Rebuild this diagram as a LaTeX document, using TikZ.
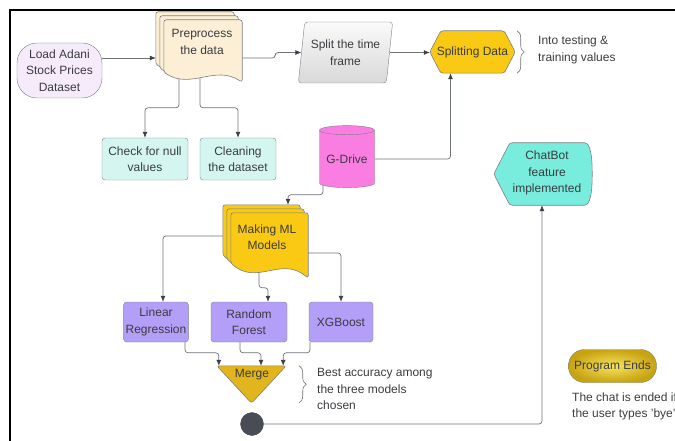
\documentclass[tikz,border=0pt]{standalone}
\usepackage{fontspec}
\setmainfont{Liberation Sans}
\usetikzlibrary{arrows.meta,positioning,calc,decorations.pathreplacing,shapes.geometric}

\pgfdeclarelayer{edges}
\pgfdeclarelayer{shapes}
\pgfsetlayers{edges,shapes,main}

\definecolor{linegray}{HTML}{6E7279}
\definecolor{tipgray}{HTML}{3C4047}
\definecolor{bordergray}{HTML}{7C7F85}
\definecolor{txtgray}{HTML}{3A3C40}
\definecolor{loadfill}{HTML}{F6EBFB}
\definecolor{prefill}{HTML}{FCEFD5}
\definecolor{goldfill}{HTML}{F9C913}
\definecolor{mintfill}{HTML}{D5F6F0}
\definecolor{drivepink}{HTML}{FA7EE2}
\definecolor{modelpurple}{HTML}{B49FF8}
\definecolor{mergegold}{HTML}{E1B51B}
\definecolor{dotgray}{HTML}{474C55}
\definecolor{chatteal}{HTML}{78ECDD}

% one page of a document stack: node, offset, colour, rise of the left end
\newcommand{\docpage}[4]{%
  \filldraw[shapeline, fill=#3]
    ($(#1.north west)+(#2)$) -- ($(#1.north east)+(#2)$) -- ($(#1.south east)+(#2)$)
    .. controls ($(#1.south east)!0.35!(#1.south west)+(#2)+(0,-#4-8)$)
       and ($(#1.south east)!0.65!(#1.south west)+(#2)+(0,8)$)
    .. ($(#1.south west)+(#2)+(0,-#4)$) -- cycle;}

\begin{document}
\begin{tikzpicture}[x=1pt,y=-1pt,
font=\fontsize{12}{16.5}\selectfont,
every node/.append style={text=txtgray},
box/.style={draw=bordergray,rectangle,rounded corners=3pt,align=center,inner sep=2pt},
plain/.style={align=center,inner sep=0pt},
note/.style={align=left,inner sep=0pt,anchor=west},
shapeline/.style={draw=bordergray,line width=0.6pt,rounded corners=2.5pt},
conn/.style={draw=linegray,line width=0.7pt,rounded corners=3pt,-{Latex[length=6pt,width=5pt,color=tipgray]}},
brace/.style={draw=linegray,line width=0.6pt,decoration={brace,amplitude=7pt},decorate}]

\useasboundingbox (0,0) rectangle (675,441);
\clip (0,0) rectangle (675,441);

% nodes
\node[box, fill=loadfill, rounded corners=20pt, minimum width=85pt, minimum height=55pt] (load) at (59.5,70.5) {Load Adani\\Stock Prices\\Dataset};
\node[plain, minimum width=78pt, minimum height=62pt] (pre) at (203,51) {};
\node[plain] (pretxt) at (202,42) {Preprocess\\the data};
\node[trapezium, draw=bordergray, top color=gray!4, bottom color=gray!30, trapezium left angle=78, trapezium right angle=102, trapezium stretches=true, minimum width=95pt, minimum height=61pt, rounded corners=3pt, align=center, inner sep=0pt] (split) at (345.5,52.5) {Split the time\\frame};
\node[plain, minimum width=85pt, minimum height=42pt] (sd) at (472.5,52) {Splitting Data};
\node[note] (sdnote) at (538,50) {Into testing \&\\training values};

\node[box, fill=mintfill, minimum width=86pt, minimum height=42pt] (check) at (145,159) {Check for null\\values};
\node[box, fill=mintfill, minimum width=76pt, minimum height=42pt] (clean) at (238,159) {Cleaning\\the dataset};
\node[cylinder, shape border rotate=90, aspect=0.22, draw=bordergray, fill=drivepink, minimum width=55pt, minimum height=62pt, inner sep=0pt] (gd) at (347,159) {G-Drive};

\node[plain, minimum width=77pt, minimum height=65pt] (ml) at (269.5,245.5) {};
\node[plain] (mltxt) at (267,237) {Making ML\\Models};
\node[box, fill=modelpurple, minimum width=64pt, minimum height=40pt] (lin) at (156,322) {Linear\\Regression};
\node[box, fill=modelpurple, minimum width=76pt, minimum height=40pt] (rf) at (249,322) {Random\\Forest};
\node[box, fill=modelpurple, minimum width=64pt, minimum height=40pt] (xgb) at (341,322) {XGBoost};

\node[plain, minimum width=69pt, minimum height=37pt] (merge) at (251.5,384.5) {};
\node[plain] (mergetxt) at (252,375) {Merge};
\node[note] (mergenote) at (317,389) {Best accuracy among\\the three models\\chosen};
\node[circle, fill=dotgray, draw=dotgray, minimum size=23pt, inner sep=0pt] (enddot) at (252,424) {};

\node[plain, minimum width=98pt, minimum height=62pt] (chat) at (543,174) {};
\node[plain] (chattxt) at (547,173) {ChatBot\\feature\\implemented};
\node[box, rounded corners=16pt, inner color={rgb,255:red,247;green,228;blue,96}, outer color={rgb,255:red,200;green,163;blue,16}, minimum width=88pt, minimum height=33pt] (prog) at (612.5,366) {Program Ends};
\node[note] (endnote) at (572,406.5) {The chat is ended if\\the user types 'bye'};

% drawn shapes
\begin{pgfonlayer}{shapes}
\docpage{pre}{-8,-8}{prefill}{10}
\docpage{pre}{-4,-4}{prefill}{10}
\docpage{pre}{0,0}{prefill}{10}
\docpage{ml}{-8,-8}{goldfill}{15}
\docpage{ml}{-4,-4}{goldfill}{15}
\docpage{ml}{0,0}{goldfill}{15}
\filldraw[shapeline, fill=goldfill] (sd.west) -- ($(sd.north west)+(11,0)$) -- ($(sd.north east)+(-11,0)$) -- (sd.east) -- ($(sd.south east)+(-11,0)$) -- ($(sd.south west)+(11,0)$) -- cycle;
\filldraw[shapeline, fill=mergegold] (merge.north west) -- (merge.north east) -- (merge.south) -- cycle;
\filldraw[shapeline, fill=chatteal] (chat.west) -- ($(chat.north west)+(16,0)$) -- ($(chat.north east)+(-10,0)$)
  .. controls ($(chat.north east)+(-2,0)$) and ($(chat.east)+(0,-18)$) .. (chat.east)
  .. controls ($(chat.east)+(0,18)$) and ($(chat.south east)+(-2,0)$) .. ($(chat.south east)+(-10,0)$)
  -- ($(chat.south west)+(16,0)$) -- cycle;
\end{pgfonlayer}

% connectors
\begin{pgfonlayer}{edges}
\draw[conn] ($(load.east)+(0,-12.5)$) -- ($(pre.west)+(-8,7)$);
\draw[conn] ($(pre.east)+(0,7)$) -- ++(33,0) |- (split.west);
\draw[conn] (split.east) -- (split.east -| sd.west);
\draw[conn] ($(pre.south)+(-24,-12)$) |- ($(check.north)+(0,-30)$) -- (check.north);
\draw[conn] ($(pre.south)+(-3,-12)$) |- ($(clean.north)+(0,-30)$) -- (clean.north);
\draw[conn] (gd.east) -| ($(sd.south)+(-22,0)$);
\draw[conn] ($(gd.south)+(-24,-5)$) |- ($(ml.north)+(18.5,-18)$) -- ($(ml.north)+(18.5,-8)$);
\draw[conn] ($(ml.west)+(-8,-9.5)$) -| ($(lin.north)+(7,0)$);
\draw[conn] ($(ml.south)+(-10.5,-8)$) |- ($(rf.north)+(19,-14)$) -- ($(rf.north)+(19,0)$);
\draw[conn] ($(ml.east)+(0,7.5)$) -| (xgb.north);
\draw[conn] ($(lin.south)+(29,0)$) |- ($(merge.north west)+(2,-13)$) -- ($(merge.north west)+(2,0)$);
\draw[conn] ($(rf.south)+(-9,0)$) |- ($(merge.north)+(9.5,-13)$) -- ($(merge.north)+(9.5,0)$);
\draw[conn] ($(xgb.south)+(-31,0)$) |- ($(merge.north east)+(-3,-13)$) -- ($(merge.north east)+(-3,0)$);
\draw[conn] (enddot.east) -| ($(chat.south)+(-1,0)$);
\end{pgfonlayer}

% braces
\draw[brace] ($(sd.north east)+(2,0)$) -- ($(sd.south east)+(2,0)$);
\draw[brace] ($(merge.north east)+(13,0)$) -- ($(merge.north east)+(13,37)$);

% window frame
\draw[line width=2.5pt, black] (675,10) -- (10,10) -- (10,441);
\end{tikzpicture}
\end{document}
